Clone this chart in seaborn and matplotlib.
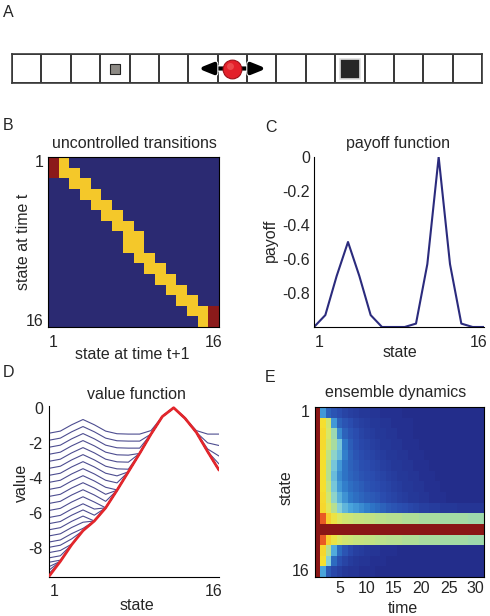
import numpy as np
import pandas as pd
import matplotlib
matplotlib.use("Agg")
import matplotlib.pyplot as plt
import seaborn as sns
from matplotlib.colors import ListedColormap, LinearSegmentedColormap
from matplotlib.patches import FancyArrowPatch
import matplotlib.patheffects as pe

# ---------------- data ----------------
n_states = 16
states = list(range(1, 17))

# Panel A: positions on the track
small_goal = 4
big_goal = 12
agent = 8

# Panel B: uncontrolled transitions (0 = none, 0.5 = move, 1 = boundary)
trans_rows = [
    [1, .5, 0, 0, 0, 0, 0, 0, 0, 0, 0, 0, 0, 0, 0, 0],
    [1, .5, .5, 0, 0, 0, 0, 0, 0, 0, 0, 0, 0, 0, 0, 0],
    [0, 0, .5, .5, 0, 0, 0, 0, 0, 0, 0, 0, 0, 0, 0, 0],
    [0, 0, 0, .5, .5, 0, 0, 0, 0, 0, 0, 0, 0, 0, 0, 0],
    [0, 0, 0, 0, .5, .5, 0, 0, 0, 0, 0, 0, 0, 0, 0, 0],
    [0, 0, 0, 0, 0, .5, .5, 0, 0, 0, 0, 0, 0, 0, 0, 0],
    [0, 0, 0, 0, 0, 0, .5, .5, 0, 0, 0, 0, 0, 0, 0, 0],
    [0, 0, 0, 0, 0, 0, 0, .5, .5, 0, 0, 0, 0, 0, 0, 0],
    [0, 0, 0, 0, 0, 0, 0, .5, .5, 0, 0, 0, 0, 0, 0, 0],
    [0, 0, 0, 0, 0, 0, 0, 0, .5, .5, 0, 0, 0, 0, 0, 0],
    [0, 0, 0, 0, 0, 0, 0, 0, 0, .5, .5, 0, 0, 0, 0, 0],
    [0, 0, 0, 0, 0, 0, 0, 0, 0, 0, .5, .5, 0, 0, 0, 0],
    [0, 0, 0, 0, 0, 0, 0, 0, 0, 0, 0, .5, .5, 0, 0, 0],
    [0, 0, 0, 0, 0, 0, 0, 0, 0, 0, 0, 0, .5, .5, 0, 0],
    [0, 0, 0, 0, 0, 0, 0, 0, 0, 0, 0, 0, 0, .5, .5, 1],
    [0, 0, 0, 0, 0, 0, 0, 0, 0, 0, 0, 0, 0, 0, .5, 1],
]

# Panel C: payoff function
payoff = [-1.0, -0.93, -0.7, -0.5, -0.7, -0.93, -1.0, -1.0, -1.0, -0.98,
          -0.63, 0.0, -0.63, -0.98, -1.0, -1.0]

# Panel D: value function iterations (blue) and final value (red)
value_final = [-9.6, -8.75, -7.8, -7.0, -6.45, -5.7, -4.7, -3.65, -2.6, -1.5,
               -0.5, 0.0, -0.6, -1.4, -2.5, -3.55]
value_iters = [
    [-1.45, -1.33, -0.97, -0.67, -0.97, -1.33, -1.48, -1.5, -1.5, -1.3, -0.5, 0.0, -0.6, -1.3, -1.5, -1.5],
    [-1.85, -1.73, -1.37, -1.07, -1.37, -1.73, -1.88, -1.9, -1.9, -1.5, -0.5, 0.0, -0.6, -1.4, -2.0, -2.15],
    [-2.25, -2.13, -1.77, -1.47, -1.77, -2.13, -2.28, -2.3, -2.3, -1.5, -0.5, 0.0, -0.6, -1.4, -2.35, -2.75],
    [-2.65, -2.53, -2.17, -1.87, -2.17, -2.53, -2.68, -2.7, -2.6, -1.5, -0.5, 0.0, -0.6, -1.4, -2.5, -3.2],
    [-3.05, -2.93, -2.57, -2.27, -2.57, -2.93, -3.08, -3.1, -2.6, -1.5, -0.5, 0.0, -0.6, -1.4, -2.5, -3.55],
    [-3.45, -3.33, -2.97, -2.67, -2.97, -3.33, -3.48, -3.5, -2.6, -1.5, -0.5, 0.0, -0.6, -1.4, -2.5, -3.55],
    [-3.85, -3.73, -3.37, -3.07, -3.37, -3.73, -3.88, -3.65, -2.6, -1.5, -0.5, 0.0, -0.6, -1.4, -2.5, -3.55],
    [-4.25, -4.13, -3.77, -3.47, -3.77, -4.13, -4.28, -3.65, -2.6, -1.5, -0.5, 0.0, -0.6, -1.4, -2.5, -3.55],
    [-4.65, -4.53, -4.17, -3.87, -4.17, -4.53, -4.68, -3.65, -2.6, -1.5, -0.5, 0.0, -0.6, -1.4, -2.5, -3.55],
    [-5.05, -4.93, -4.57, -4.27, -4.57, -4.93, -4.7, -3.65, -2.6, -1.5, -0.5, 0.0, -0.6, -1.4, -2.5, -3.55],
    [-5.45, -5.33, -4.97, -4.67, -4.97, -5.33, -4.7, -3.65, -2.6, -1.5, -0.5, 0.0, -0.6, -1.4, -2.5, -3.55],
    [-5.85, -5.73, -5.37, -5.07, -5.37, -5.7, -4.7, -3.65, -2.6, -1.5, -0.5, 0.0, -0.6, -1.4, -2.5, -3.55],
    [-6.25, -6.13, -5.77, -5.47, -5.77, -5.7, -4.7, -3.65, -2.6, -1.5, -0.5, 0.0, -0.6, -1.4, -2.5, -3.55],
    [-6.6, -6.48, -6.12, -5.82, -6.12, -5.7, -4.7, -3.65, -2.6, -1.5, -0.5, 0.0, -0.6, -1.4, -2.5, -3.55],
    [-6.95, -6.83, -6.47, -6.17, -6.45, -5.7, -4.7, -3.65, -2.6, -1.5, -0.5, 0.0, -0.6, -1.4, -2.5, -3.55],
    [-7.3, -7.18, -6.82, -6.52, -6.45, -5.7, -4.7, -3.65, -2.6, -1.5, -0.5, 0.0, -0.6, -1.4, -2.5, -3.55],
    [-7.65, -7.53, -7.17, -6.87, -6.45, -5.7, -4.7, -3.65, -2.6, -1.5, -0.5, 0.0, -0.6, -1.4, -2.5, -3.55],
    [-7.95, -7.83, -7.47, -7.0, -6.45, -5.7, -4.7, -3.65, -2.6, -1.5, -0.5, 0.0, -0.6, -1.4, -2.5, -3.55],
    [-8.25, -8.13, -7.77, -7.0, -6.45, -5.7, -4.7, -3.65, -2.6, -1.5, -0.5, 0.0, -0.6, -1.4, -2.5, -3.55],
    [-8.55, -8.43, -7.8, -7.0, -6.45, -5.7, -4.7, -3.65, -2.6, -1.5, -0.5, 0.0, -0.6, -1.4, -2.5, -3.55],
    [-8.8, -8.68, -7.8, -7.0, -6.45, -5.7, -4.7, -3.65, -2.6, -1.5, -0.5, 0.0, -0.6, -1.4, -2.5, -3.55],
    [-9.05, -8.75, -7.8, -7.0, -6.45, -5.7, -4.7, -3.65, -2.6, -1.5, -0.5, 0.0, -0.6, -1.4, -2.5, -3.55],
    [-9.25, -8.75, -7.8, -7.0, -6.45, -5.7, -4.7, -3.65, -2.6, -1.5, -0.5, 0.0, -0.6, -1.4, -2.5, -3.55],
    [-9.45, -8.75, -7.8, -7.0, -6.45, -5.7, -4.7, -3.65, -2.6, -1.5, -0.5, 0.0, -0.6, -1.4, -2.5, -3.55],
]

# Panel E: ensemble dynamics (normalised occupancy, 16 states x 31 time steps)
ens_rows = [
    [1.0, .30, .20, .17, .15, .13, .12, .11, .10, .10, .09, .09, .08, .08, .08, .08, .07, .07, .07, .07, .07, .07, .07, .07, .07, .07, .07, .07, .07, .07, .07],
    [1.0, .62, .55, .30, .20, .17, .15, .13, .12, .11, .10, .10, .09, .09, .08, .08, .08, .08, .07, .07, .07, .07, .07, .07, .07, .07, .07, .07, .07, .07, .07],
    [1.0, .63, .56, .45, .28, .20, .17, .15, .13, .12, .11, .10, .10, .09, .09, .08, .08, .08, .07, .07, .07, .07, .07, .07, .07, .07, .07, .07, .07, .07, .07],
    [1.0, .63, .55, .48, .38, .25, .19, .16, .14, .13, .12, .11, .10, .10, .09, .09, .08, .08, .08, .07, .07, .07, .07, .07, .07, .07, .07, .07, .07, .07, .07],
    [1.0, .62, .52, .42, .36, .26, .20, .17, .15, .14, .13, .12, .11, .10, .10, .09, .09, .08, .08, .08, .07, .07, .07, .07, .07, .07, .07, .07, .07, .07, .07],
    [1.0, .62, .50, .38, .30, .24, .20, .18, .16, .15, .14, .13, .12, .11, .10, .10, .09, .09, .08, .08, .08, .07, .07, .07, .07, .07, .07, .07, .07, .07, .07],
    [1.0, .62, .50, .36, .28, .24, .21, .19, .17, .16, .15, .14, .13, .12, .11, .10, .10, .09, .09, .08, .08, .08, .07, .07, .07, .07, .07, .07, .07, .07, .07],
    [1.0, .62, .52, .38, .30, .26, .23, .21, .19, .17, .16, .15, .14, .13, .12, .11, .10, .10, .09, .09, .08, .08, .08, .07, .07, .07, .07, .07, .07, .07, .07],
    [1.0, .63, .55, .42, .34, .29, .25, .23, .21, .19, .18, .17, .15, .14, .13, .12, .11, .10, .10, .09, .09, .08, .08, .08, .07, .07, .07, .07, .07, .07, .07],
    [1.0, .64, .58, .50, .40, .35, .32, .30, .28, .26, .24, .22, .20, .18, .17, .16, .15, .14, .13, .12, .12, .11, .11, .10, .10, .10, .09, .09, .09, .09, .09],
    [1.0, .85, .66, .60, .57, .55, .54, .53, .53, .52, .52, .51, .51, .50, .50, .50, .49, .49, .49, .48, .48, .48, .48, .47, .47, .47, .47, .47, .46, .46, .46],
    [1.0, 1.0, 1.0, 1.0, 1.0, 1.0, 1.0, 1.0, 1.0, 1.0, 1.0, 1.0, 1.0, 1.0, 1.0, 1.0, 1.0, 1.0, 1.0, 1.0, 1.0, 1.0, 1.0, 1.0, 1.0, 1.0, 1.0, 1.0, 1.0, 1.0, 1.0],
    [1.0, .85, .66, .60, .57, .55, .54, .53, .53, .52, .52, .51, .51, .50, .50, .50, .49, .49, .49, .48, .48, .48, .48, .47, .47, .47, .47, .47, .46, .46, .46],
    [1.0, .64, .50, .33, .22, .17, .14, .12, .11, .10, .09, .09, .08, .08, .08, .07, .07, .07, .07, .07, .07, .07, .07, .07, .07, .07, .07, .07, .07, .07, .07],
    [1.0, .62, .40, .22, .16, .13, .11, .10, .09, .09, .08, .08, .08, .07, .07, .07, .07, .07, .07, .07, .07, .07, .07, .07, .07, .07, .07, .07, .07, .07, .07],
    [1.0, .32, .18, .14, .12, .10, .09, .09, .08, .08, .08, .07, .07, .07, .07, .07, .07, .07, .07, .07, .07, .07, .07, .07, .07, .07, .07, .07, .07, .07, .07],
]
time_ticks = [5, 10, 15, 20, 25, 30]

# ---------------- style ----------------
sns.set_style("white")
plt.rcParams["font.family"] = ["Liberation Sans", "DejaVu Sans"]
plt.rcParams["axes.unicode_minus"] = False
FS = 11.5
plt.rcParams["font.size"] = FS

W, H = 490, 616
fig = plt.figure(figsize=(W / 100, H / 100), dpi=100)


def ax_px(l, t, r, b):
    return fig.add_axes([l / W, 1 - b / H, (r - l) / W, (b - t) / H])


def txt(x, y, s, **kw):
    fig.text(x / W, 1 - y / H, s, fontsize=FS, **kw)


NAVY = "#2b2a72"
jet_like = LinearSegmentedColormap.from_list("jetlike", [
    (0.00, "#1f2a78"), (0.07, "#232d8c"), (0.15, "#2a4cae"), (0.25, "#2f78c8"),
    (0.32, "#4aa6dc"), (0.40, "#86d0d8"), (0.47, "#a3dba4"), (0.52, "#c0e284"),
    (0.57, "#dce862"), (0.62, "#f6df2e"), (0.75, "#f8a82a"), (0.85, "#ea5a24"),
    (1.00, "#8a1616")])

# ---------------- Panel A ----------------
axA = ax_px(12, 54, 482, 83)
sns.heatmap(np.zeros((1, n_states)), cmap=ListedColormap(["white"]), cbar=False,
            linewidths=1.2, linecolor="#3a3a3a", xticklabels=False,
            yticklabels=False, ax=axA)
for sp in axA.spines.values():
    sp.set_visible(True)
    sp.set_color("#3a3a3a")
    sp.set_linewidth(1.2)
axA.plot([small_goal - 0.5], [0.5], marker="s", ms=6.5, mfc="#8d8a85",
         mec="#222222", mew=0.8, ls="none", zorder=3)
axA.plot([big_goal - 0.5], [0.5], marker="s", ms=14.5, mfc="#262626",
         mec="#dedede", mew=1.2, ls="none", zorder=3)
arrow = FancyArrowPatch((agent - 0.5 - 1.17, 0.5), (agent - 0.5 + 1.17, 0.5),
                        arrowstyle="<|-|>,head_length=0.7,head_width=0.28",
                        mutation_scale=12, lw=3, color="black", zorder=4,
                        shrinkA=0, shrinkB=0)
arrow.set_path_effects([pe.Stroke(linewidth=4.5, foreground="white"), pe.Normal()])
axA.add_patch(arrow)
axA.plot([agent - 0.5], [0.5], marker="o", ms=13.5, mfc="#e3202a",
         mec="#9c1018", mew=0.8, ls="none", zorder=5)
axA.plot([agent - 0.5 - 0.07], [0.42], marker="o", ms=5, mfc="#f05a5a",
         mec="none", ls="none", alpha=0.7, zorder=6)

# ---------------- Panel B ----------------
axB = ax_px(48, 157, 219, 327)
sns.heatmap(np.array(trans_rows), cmap=ListedColormap([NAVY, "#f4c82a", "#8b1a1a"]),
            vmin=0, vmax=1, cbar=False, ax=axB)
for sp in axB.spines.values():
    sp.set_visible(True)
    sp.set_color("black")
    sp.set_linewidth(0.8)
axB.set_xticks([0.5, 15.5])
axB.set_xticklabels(["1", "16"], rotation=0, fontsize=FS)
axB.set_yticks([0.5, 15.5])
axB.set_yticklabels(["1", "16"], rotation=0, fontsize=FS)
axB.tick_params(axis="x", length=0, pad=6)
axB.tick_params(axis="y", length=0, pad=3.5)

# ---------------- Panel C ----------------
axC = ax_px(314, 157, 484, 327)
sns.lineplot(x=states, y=payoff, color="#2b2b7d", lw=1.5, ax=axC)
axC.set_xlim(1, 16)
axC.set_ylim(-1, 0)
axC.set_xticks([1.5, 15.5])
axC.set_xticklabels(["1", "16"], fontsize=FS)
axC.set_yticks([0, -0.2, -0.4, -0.6, -0.8])
axC.set_yticklabels(["0", "-0.2", "-0.4", "-0.6", "-0.8"], fontsize=FS)
sns.despine(ax=axC)
for sp in ("left", "bottom"):
    axC.spines[sp].set_color("black")
    axC.spines[sp].set_linewidth(0.8)
axC.tick_params(axis="x", length=0, pad=6)
axC.tick_params(axis="y", direction="in", length=2, width=0.6, pad=3)

# ---------------- Panel D ----------------
axD = ax_px(49, 406, 219, 577)
dfD = pd.DataFrame({
    "state": np.tile(states, len(value_iters)),
    "value": np.concatenate(value_iters),
    "iter": np.repeat(np.arange(len(value_iters)), n_states),
})
sns.lineplot(data=dfD, x="state", y="value", units="iter", estimator=None,
             color="#4d4d90", lw=0.8, ax=axD)
sns.lineplot(x=states, y=value_final, color="#e3262b", lw=2.0, ax=axD, zorder=5)
axD.set_xlim(1, 16)
axD.set_ylim(-9.64, 0.1)
axD.set_xticks([1.5, 15.5])
axD.set_xticklabels(["1", "16"], fontsize=FS)
axD.set_yticks([0, -2, -4, -6, -8])
axD.set_yticklabels(["0", "-2", "-4", "-6", "-8"], fontsize=FS)
axD.set_xlabel("")
axD.set_ylabel("")
sns.despine(ax=axD)
for sp in ("left", "bottom"):
    axD.spines[sp].set_color("black")
    axD.spines[sp].set_linewidth(0.8)
axD.tick_params(axis="x", length=0, pad=5)
axD.tick_params(axis="y", direction="in", length=2, width=0.6, pad=4.5)

# ---------------- Panel E ----------------
axE = ax_px(315, 407, 484, 577)
sns.heatmap(np.array(ens_rows), cmap=jet_like, vmin=0, vmax=1, cbar=False, ax=axE)
for sp in axE.spines.values():
    sp.set_visible(True)
    sp.set_color("black")
    sp.set_linewidth(0.8)
axE.set_xticks([t - 0.5 for t in time_ticks])
axE.set_xticklabels([str(t) for t in time_ticks], rotation=0, fontsize=FS)
axE.set_yticks([0.5, 15.5])
axE.set_yticklabels(["1", "16"], rotation=0, fontsize=FS)
axE.tick_params(axis="x", length=0, pad=3)
axE.tick_params(axis="y", length=0, pad=4)

# ---------------- texts ----------------
for lab, x, y in [("A", 3, 17), ("B", 3, 130), ("C", 265, 132),
                  ("D", 3, 377), ("E", 265, 382)]:
    txt(x, y, lab, ha="left", va="baseline")

txt(134, 148, "uncontrolled transitions", ha="center", va="baseline")
txt(398, 148, "payoff function", ha="center", va="baseline")
txt(136, 399, "value function", ha="center", va="baseline")
txt(396, 397, "ensemble dynamics", ha="center", va="baseline")

txt(132, 359, "state at time t+1", ha="center", va="baseline")
txt(400, 357, "state", ha="center", va="baseline")
txt(137, 610, "state", ha="center", va="baseline")
txt(403, 613, "time", ha="center", va="baseline")

txt(24, 242, "state at time t", ha="center", va="center", rotation=90)
txt(270, 240, "payoff", ha="center", va="center", rotation=90)
txt(21, 483, "value", ha="center", va="center", rotation=90)
txt(286, 488, "state", ha="center", va="center", rotation=90)

fig.savefig("out.png", dpi=100)
